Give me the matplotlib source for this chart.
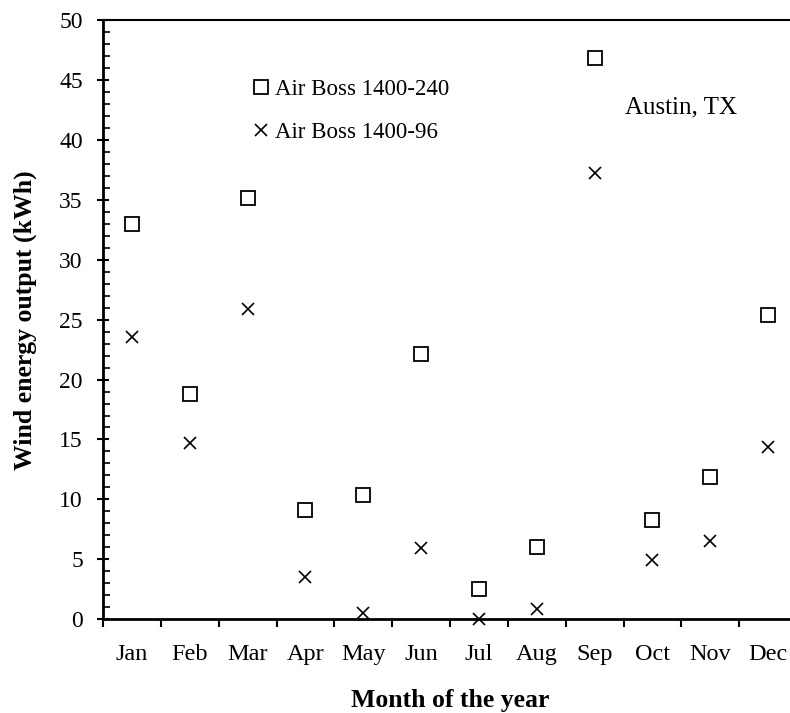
import numpy as np
import matplotlib
matplotlib.use("Agg")
import matplotlib.pyplot as plt
from matplotlib.ticker import MultipleLocator, FixedLocator, NullFormatter

months = ["Jan", "Feb", "Mar", "Apr", "May", "Jun",
          "Jul", "Aug", "Sep", "Oct", "Nov", "Dec"]
boss_240 = [33.0, 18.8, 35.2, 9.1, 10.4, 22.1, 2.5, 6.0, 46.9, 8.3, 11.9, 25.4]
boss_96 = [23.6, 14.7, 25.9, 3.5, 0.5, 5.9, 0.0, 0.8, 37.3, 4.9, 6.5, 14.4]

plt.rcParams['font.family'] = ['Liberation Serif', 'DejaVu Serif']

fig = plt.figure(figsize=(7.9, 7.13), dpi=100)
# axes run past the right edge, like the cropped original
ax = fig.add_axes([103/790, 1 - 619/713, 694/790, (619 - 20.5)/713])

x = np.arange(1, len(months) + 1)
ax.plot(x, boss_240, ls='none', marker='s', ms=9.5, mfc='none', mec='black',
        mew=1.3, label='Air Boss 1400-240', clip_on=False)
ax.plot(x, boss_96, ls='none', marker='x', ms=9, mec='black',
        mew=1.2, label='Air Boss 1400-96', clip_on=False)

ax.set_xlim(0.5, 12.5)
ax.set_ylim(0, 50)

# y ticks: majors cross the spine, minors inside
ax.yaxis.set_major_locator(MultipleLocator(5))
ax.yaxis.set_minor_locator(MultipleLocator(1))
ax.tick_params(axis='y', which='major', direction='inout', length=9, width=1.5,
               labelsize=17, pad=10)
ax.tick_params(axis='y', which='minor', direction='in', length=5, width=1.2)

# x ticks at month boundaries, labels centered under each month
ax.xaxis.set_major_locator(FixedLocator(np.arange(0.5, 13, 1)))
ax.xaxis.set_major_formatter(NullFormatter())
ax.xaxis.set_minor_locator(FixedLocator(x))
ax.set_xticks(x, months, minor=True)
ax.tick_params(axis='x', which='major', direction='out', length=6, width=1.5)
ax.tick_params(axis='x', which='minor', length=0, labelsize=17.5, pad=18)

ax.spines['left'].set_linewidth(2)
ax.spines['bottom'].set_linewidth(2)
ax.spines['top'].set_linewidth(1.5)
ax.spines['right'].set_visible(False)

ax.set_xlabel('Month of the year', fontsize=18.5, fontweight='bold', labelpad=17)
ax.set_ylabel('Wind energy output (kWh)', fontsize=18.5, fontweight='bold', labelpad=16)

ax.legend(loc='upper left', bbox_to_anchor=(254/790, 1 - 79/713),
          bbox_transform=fig.transFigure, frameon=False, fontsize=16.5,
          handlelength=0.6, handletextpad=0.3, labelspacing=0.95,
          borderaxespad=0, borderpad=0)

fig.text(625/790, 1 - 107/713, 'Austin, TX', fontsize=18, va='center', ha='left')

fig.savefig('out.png', dpi=100)
